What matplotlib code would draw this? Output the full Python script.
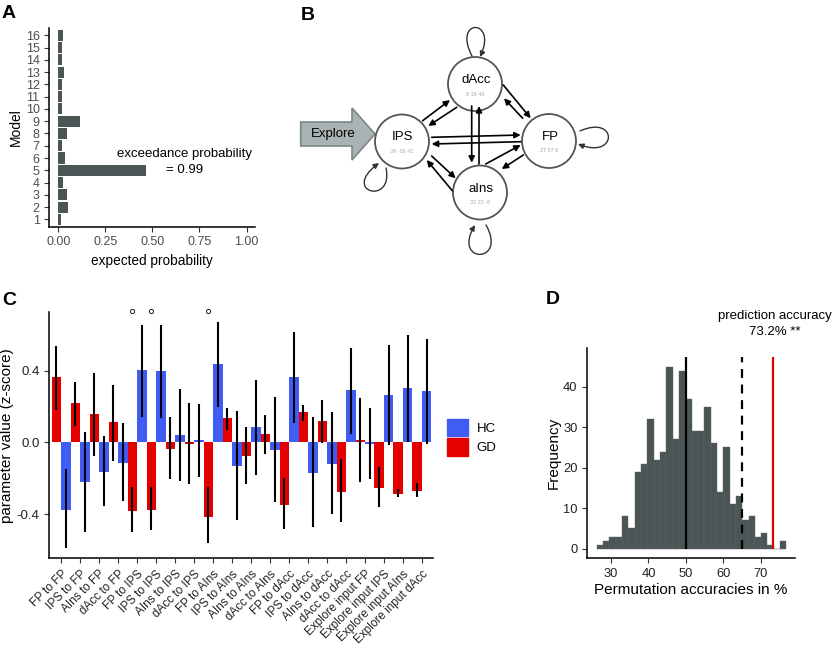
import numpy as np
import matplotlib
matplotlib.use("Agg")
import matplotlib.pyplot as plt
from matplotlib.patches import Circle, Polygon, FancyArrowPatch, Patch
from matplotlib.path import Path

plt.rcParams['font.family'] = ['Liberation Sans', 'DejaVu Sans']

# ---- data ----
# A: expected probability per model
models = list(range(1, 17))
exp_prob = [0.014, 0.05, 0.048, 0.023, 0.464, 0.035, 0.021, 0.044,
            0.115, 0.02, 0.021, 0.021, 0.028, 0.02, 0.02, 0.027]

# B: DCM nodes
node_names = ['dAcc', 'IPS', 'FP', 'aIns']
node_mni = ['8 16 46', '39 -36 42', '27 57 6', '32 22 -8']

# C: parameter values (z-score) per connection
connections = ['FP to FP', 'IPS to FP', 'AIns to FP', 'dAcc to FP',
               'FP to IPS', 'IPS to IPS', 'AIns to IPS', 'dAcc to IPS',
               'FP to AIns', 'IPS to AIns', 'AIns to AIns', 'dAcc to AIns',
               'FP to dAcc', 'IPS to dAcc', 'AIns to dAcc', 'dAcc to dAcc',
               'Explore input FP', 'Explore input IPS', 'Explore input AIns',
               'Explore input dAcc']
gd = [0.365, 0.218, 0.16, 0.112, -0.38, -0.376, -0.037, -0.011, -0.417, 0.134,
      -0.078, 0.048, -0.348, 0.167, 0.119, -0.275, 0.015, -0.253, -0.287, -0.27]
gd_lo = [0.18, 0.093, -0.074, -0.106, -0.502, -0.491, -0.205, -0.231, -0.562, 0.071,
         -0.231, -0.065, -0.48, 0.117, -0.004, -0.445, -0.223, -0.361, -0.305, -0.305]
gd_hi = [0.54, 0.335, 0.387, 0.322, -0.249, -0.249, 0.14, 0.221, -0.246, 0.19,
         0.084, 0.151, -0.2, 0.21, 0.234, -0.093, 0.246, -0.136, -0.26, -0.229]
hc = [-0.376, -0.223, -0.164, -0.112, 0.402, 0.398, 0.043, 0.015, 0.439, -0.134,
      0.087, -0.045, 0.367, -0.171, -0.119, 0.292, -0.011, 0.266, 0.305, 0.288]
hc_lo = [-0.59, -0.497, -0.352, -0.324, 0.141, 0.136, -0.216, -0.195, 0.197, -0.435,
         -0.182, -0.331, 0.108, -0.469, -0.4, 0.048, -0.203, -0.015, 0.0, -0.009]
hc_hi = [-0.15, 0.058, 0.035, 0.108, 0.653, 0.653, 0.296, 0.216, 0.67, 0.173,
         0.35, 0.253, 0.616, 0.14, 0.169, 0.525, 0.19, 0.541, 0.597, 0.579]
sig_idx = [4, 5, 8]
sig_y = 0.735

# D: permutation histogram
bin_start = 26.16
bin_width = 1.688
perm_counts = [1, 2, 3, 3, 8, 5, 19, 21, 32, 22, 24, 45, 27, 44, 37,
               29, 29, 35, 26, 14, 25, 11, 13, 7, 8, 3, 4, 1, 0, 2]
chance_acc = 50
thresh_acc = 65
pred_acc = 73.2

W, H = 837, 648
fig = plt.figure(figsize=(W / 100, H / 100), dpi=100)


def rect(x0, y0, x1, y1):
    # pixel box -> figure fraction
    return [x0 / W, 1 - y1 / H, (x1 - x0) / W, (y1 - y0) / H]


def classic(ax, tcol):
    for s in ['top', 'right']:
        ax.spines[s].set_visible(False)
    for s in ['left', 'bottom']:
        ax.spines[s].set_linewidth(1.1)
    ax.tick_params(length=3.5, width=0.8, color='#333333', labelcolor=tcol)


bar_gray = '#4b5555'
blue = '#3f5df5'
red = '#e50000'

# ---- A ----
ax_a = fig.add_axes(rect(49.3, 28, 255, 226.7))
ax_a.barh(models, exp_prob, height=0.9, color=bar_gray)
ax_a.set_xlim(-0.048, 1.045)
ax_a.set_ylim(0.4, 16.6)
ax_a.set_yticks(models)
ax_a.set_xticks([0, 0.25, 0.5, 0.75, 1.0])
ax_a.set_xticklabels(['0.00', '0.25', '0.50', '0.75', '1.00'])
classic(ax_a, '#4d4d4d')
ax_a.tick_params(labelsize=9)
ax_a.set_xlabel('expected probability', fontsize=9.8)
ax_a.set_ylabel('Model', fontsize=10, labelpad=2)
ax_a.text(0.673, 6.31, 'exceedance probability', ha='center', va='center', fontsize=9.5)
ax_a.text(0.673, 5.0, '= 0.99', ha='center', va='center', fontsize=9.5)

# ---- B ----
ax_b = fig.add_axes(rect(290, 0, 620, 265))
ax_b.set_xlim(290, 620)
ax_b.set_ylim(265, 0)
ax_b.axis('off')
centers = {'dAcc': (475, 84), 'IPS': (402, 141.5), 'FP': (549, 141), 'aIns': (480, 192.5)}
for name, mni in zip(node_names, node_mni):
    cx, cy = centers[name]
    ax_b.add_patch(Circle((cx, cy), 27, facecolor='white', edgecolor='#555555', lw=1.3, zorder=2))
    ax_b.text(cx + 1, cy - 4, name, ha='center', va='center', fontsize=9.5, zorder=3)
    ax_b.text(cx, cy + 10, mni, ha='center', va='center', fontsize=4, color='#aaaaaa', zorder=3)

links = [((422.7, 120.7), (450, 100)), ((456.7, 107.3), (428.3, 126)),
         ((503.3, 85), (530.7, 118.3)), ((522.7, 118.3), (504, 98.3)),
         ((431.7, 137.3), (520.7, 135)), ((520.7, 141.7), (431.7, 144)),
         ((471.7, 106), (471.7, 162.7)), ((479, 164), (479, 106)),
         ((431.7, 156), (455.7, 178.3)), ((452.3, 190.7), (426.7, 160)),
         ((485.7, 164), (520.7, 145)), ((523.3, 155), (501.7, 169))]
for a, b in links:
    ax_b.add_patch(FancyArrowPatch(a, b, arrowstyle='-|>', mutation_scale=9, lw=1.2,
                                   color='black', shrinkA=0, shrinkB=0, zorder=3))

loops = [[(472, 56), (452, 18), (498, 18), (480, 57)],
         [(386, 168), (394, 206), (340, 192), (379, 163)],
         [(580, 131), (618, 114), (618, 160), (578, 144)],
         [(486, 225), (508, 264), (452, 264), (475, 225)]]
for pts in loops:
    p = Path(pts, [Path.MOVETO, Path.CURVE4, Path.CURVE4, Path.CURVE4])
    ax_b.add_patch(FancyArrowPatch(path=p, arrowstyle='-|>', mutation_scale=8, lw=1.0,
                                   color='#333333', zorder=3))

explore = [(300.7, 122), (352, 122), (352, 108), (375, 134), (352, 160),
           (352, 146), (300.7, 146)]
ax_b.add_patch(Polygon(explore, closed=True, facecolor='#aab3b3', edgecolor='#7d8787', lw=1.2))
ax_b.text(333, 134, 'Explore', ha='center', va='center', fontsize=9.5)

# ---- C ----
ax_c = fig.add_axes(rect(49.3, 312, 433, 558.3))
x = np.arange(len(connections))
ax_c.bar(x - 0.25, gd, width=0.5, color=red, label='GD')
ax_c.bar(x + 0.25, hc, width=0.5, color=blue, label='HC')
ax_c.vlines(x - 0.25, gd_lo, gd_hi, color='black', lw=1.5)
ax_c.vlines(x + 0.25, hc_lo, hc_hi, color='black', lw=1.5)
ax_c.plot(x[sig_idx] - 0.25, [sig_y] * len(sig_idx), 'o', ms=3, mfc='white', mec='black',
          mew=0.6, clip_on=False)
ax_c.set_xlim(-0.62, 19.58)
ax_c.set_ylim(-0.646, 0.727)
ax_c.set_yticks([-0.4, 0.0, 0.4])
ax_c.set_yticklabels(['-0.4', '0.0', '0.4'])
ax_c.set_xticks(x)
ax_c.set_xticklabels(connections, rotation=45, ha='right', rotation_mode='anchor')
classic(ax_c, '#222222')
ax_c.tick_params(axis='y', labelsize=9.5)
ax_c.tick_params(axis='x', labelsize=8.5)
ax_c.set_ylabel('parameter value (z-score)', fontsize=11, labelpad=2)
fig.legend(handles=[Patch(color=blue), Patch(color=red)], labels=['HC', 'GD'],
           loc='upper left', bbox_to_anchor=(446.7 / W, 1 - 419 / H), frameon=False,
           fontsize=9.5, handlelength=1.64, handleheight=1.64, labelspacing=0.15,
           handletextpad=0.63, borderpad=0, borderaxespad=0)

# ---- D ----
ax_d = fig.add_axes(rect(587.3, 348.3, 795, 558.3))
edges = bin_start + bin_width * np.arange(len(perm_counts) + 1)
ax_d.hist(edges[:-1], bins=edges, weights=perm_counts, color=bar_gray,
          edgecolor='#5d6665', linewidth=0.3)
ax_d.vlines(chance_acc, 0, 47.3, color='black', lw=1.6)
ax_d.vlines(thresh_acc, 0, 47.3, color='black', lw=1.6, linestyles=(0, (4, 3)))
ax_d.vlines(pred_acc, 0, 47.3, color=red, lw=1.6)
ax_d.set_xlim(23.68, 79.07)
ax_d.set_ylim(-2.37, 49.5)
ax_d.set_xticks([30, 40, 50, 60, 70])
ax_d.set_yticks([0, 10, 20, 30, 40])
classic(ax_d, '#222222')
ax_d.tick_params(labelsize=9.3)
ax_d.set_xlabel('Permutation accuracies in %', fontsize=11, labelpad=2)
ax_d.set_ylabel('Frequency', fontsize=11, labelpad=2)
ax_d.text(73.7, 57.5, 'prediction accuracy', ha='center', va='center', fontsize=9.5, clip_on=False)
ax_d.text(73.7, 53.6, '73.2% **', ha='center', va='center', fontsize=9.5, clip_on=False)

# panel letters
for lab, px, py in [('A', 2, 5), ('B', 301, 7), ('C', 2, 292), ('D', 546, 291)]:
    fig.text(px / W, 1 - py / H, lab, fontsize=14, fontweight='bold', va='top', ha='left')

fig.savefig('out.png', dpi=100)
